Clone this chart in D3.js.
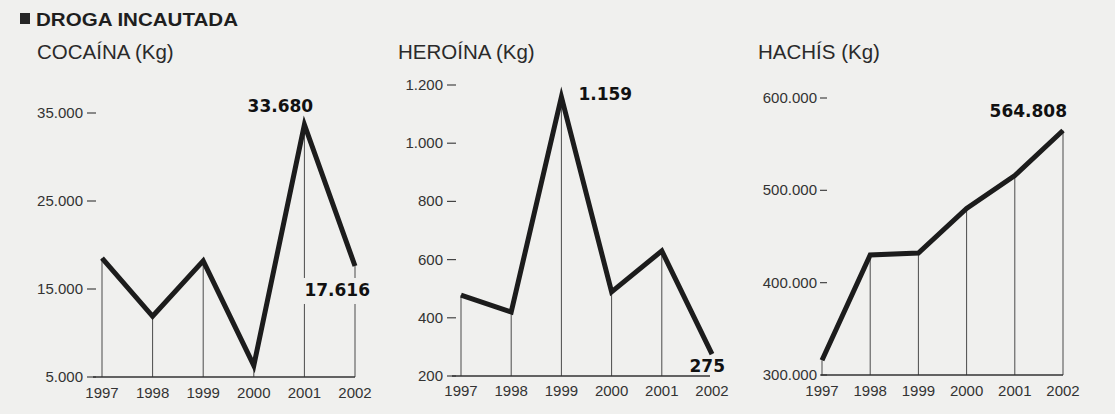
<!DOCTYPE html>
<html>
<head>
<meta charset="utf-8">
<script src="https://cdn.jsdelivr.net/npm/d3@7"></script>
<style>
  html, body { margin: 0; padding: 0; background: #f0f0ee; }
  svg { display: block; }
</style>
</head>
<body>
<svg id="chart" width="1115" height="414"></svg>
<script>
// ---- Data ----
const years = ["1997", "1998", "1999", "2000", "2001", "2002"];
const cocaina = [18500, 11900, 18200, 6300, 33680, 17616];
const heroina = [478, 420, 1159, 489, 630, 275];
const hachis = [316000, 430000, 432000, 480500, 516000, 564808];
const cocainaTicks = [5000, 15000, 25000, 35000];
const heroinaTicks = [200, 400, 600, 800, 1000, 1200];
const hachisTicks = [300000, 400000, 500000, 600000];
const titleText = "DROGA INCAUTADA";
const panelTitles = ["COCAÍNA (Kg)", "HEROÍNA (Kg)", "HACHÍS (Kg)"];

// ---- Layout ----
const panels = [
  { title: panelTitles[0], values: cocaina, ticks: cocainaTicks,
    titleX: 37, xRange: [102, 355], axisStart: 93, axisEnd: 355,
    yDomain: [5000, 35000], yRange: [377, 113], labelRight: 83, dash: [87, 96], xLabelY: 398,
    callouts: [ { i: 4, dx: -24, dy: -13, anchor: "middle" },
                { i: 5, dx: 15, dy: 30, anchor: "end", mask: true } ] },
  { title: panelTitles[1], values: heroina, ticks: heroinaTicks,
    titleX: 398, xRange: [461, 712], axisStart: 452, axisEnd: 710,
    yDomain: [200, 1200], yRange: [376, 85], labelRight: 443, dash: [447, 456], xLabelY: 396,
    callouts: [ { i: 2, dx: 17, dy: 3, anchor: "start" },
                { i: 5, dx: 13, dy: 18, anchor: "end", mask: true } ] },
  { title: panelTitles[2], values: hachis, ticks: hachisTicks,
    titleX: 758, xRange: [822, 1063], axisStart: 821, axisEnd: 1063,
    yDomain: [300000, 600000], yRange: [375, 98], labelRight: 817, dash: [820, 827], xLabelY: 396,
    callouts: [ { i: 5, dx: 4, dy: -13, anchor: "end" } ] }
];

const loc = d3.formatLocale({ decimal: ",", thousands: ".", grouping: [3], currency: ["", ""] });
const fmt = loc.format(",d");

const svg = d3.select("#chart");
const BG = "#f0f0ee";
const INK = "#1c1c1c";
const SANS = "'Liberation Sans', Arial, Helvetica, sans-serif";
const BOLD = "'DejaVu Sans', Verdana, sans-serif";

svg.append("rect").attr("width", 1115).attr("height", 414).attr("fill", BG);

// Main title
svg.append("rect").attr("x", 20).attr("y", 13).attr("width", 10).attr("height", 11).attr("fill", "#262626");
svg.append("text").attr("x", 36).attr("y", 26)
  .attr("font-family", SANS).attr("font-weight", "bold").attr("font-size", 18)
  .attr("textLength", 202).attr("lengthAdjust", "spacingAndGlyphs")
  .attr("fill", "#1e1e1e").text(titleText);

panels.forEach(p => {
  const g = svg.append("g");
  const x = d3.scalePoint().domain(years).range(p.xRange);
  const y = d3.scaleLinear().domain(p.yDomain).range(p.yRange);
  const base = y(p.yDomain[0]);

  // Panel title
  g.append("text").attr("x", p.titleX).attr("y", 59)
    .attr("font-family", SANS).attr("font-size", 20.5).attr("fill", "#2a2a2a")
    .text(p.title);

  // Y tick labels and dashes
  const yt = g.selectAll(".yt").data(p.ticks).enter().append("g");
  yt.append("text")
    .attr("x", p.labelRight).attr("y", d => y(d) + 5)
    .attr("text-anchor", "end")
    .attr("font-family", SANS).attr("font-size", 15).attr("fill", "#333")
    .text(d => fmt(d));
  yt.append("line")
    .attr("x1", p.dash[0]).attr("x2", p.dash[1])
    .attr("y1", d => y(d)).attr("y2", d => y(d))
    .attr("stroke", "#444").attr("stroke-width", 1.2);

  // Drop lines
  g.selectAll(".drop").data(p.values).enter().append("line")
    .attr("x1", (d, i) => x(years[i])).attr("x2", (d, i) => x(years[i]))
    .attr("y1", base).attr("y2", d => y(d))
    .attr("stroke", "#4a4a4a").attr("stroke-width", 1);

  // X labels
  g.selectAll(".xl").data(years).enter().append("text")
    .attr("x", d => x(d)).attr("y", p.xLabelY)
    .attr("text-anchor", "middle")
    .attr("font-family", SANS).attr("font-size", 15).attr("fill", "#333")
    .text(d => d);

  // Callout labels (with paper background mask where needed)
  p.callouts.forEach(c => {
    const px = x(years[c.i]) + c.dx;
    const py = y(p.values[c.i]) + c.dy;
    const t = g.append("text")
      .attr("x", px).attr("y", py)
      .attr("text-anchor", c.anchor)
      .attr("font-family", BOLD).attr("font-weight", "bold").attr("font-size", 17)
      .attr("fill", "#111")
      .text(fmt(p.values[c.i]));
    if (c.mask) {
      const bb = t.node().getBBox();
      g.insert("rect", () => t.node())
        .attr("x", bb.x - 3).attr("y", bb.y - 2)
        .attr("width", bb.width + 6).attr("height", bb.height + 6)
        .attr("fill", BG);
    }
  });

  // Axis baseline
  g.append("line")
    .attr("x1", p.axisStart).attr("x2", p.axisEnd)
    .attr("y1", base).attr("y2", base)
    .attr("stroke", "#333").attr("stroke-width", 1.5);

  // Thick data line
  const line = d3.line().x((d, i) => x(years[i])).y(d => y(d));
  g.append("path").datum(p.values)
    .attr("d", line)
    .attr("fill", "none").attr("stroke", INK)
    .attr("stroke-width", 5).attr("stroke-linejoin", "miter").attr("stroke-miterlimit", 6);
});
</script>
</body>
</html>
